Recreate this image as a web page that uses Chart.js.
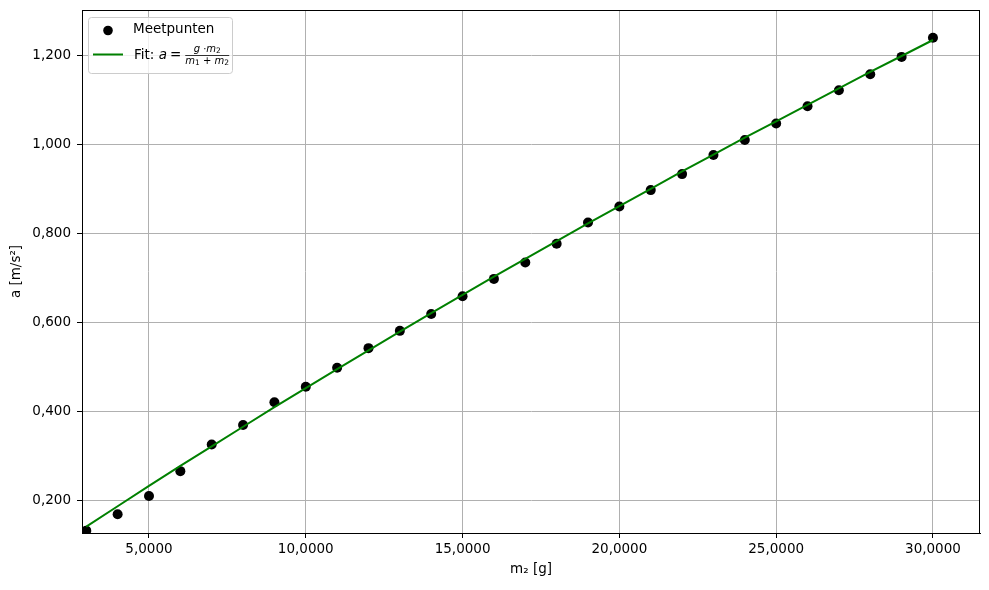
<!DOCTYPE html>
<html>
<head>
<meta charset="utf-8">
<script src="https://cdn.jsdelivr.net/npm/chart.js@4/dist/chart.umd.min.js"></script>
<style>
  html, body { margin: 0; padding: 0; background: #fff; }
  #wrap { width: 989px; height: 590px; }
</style>
</head>
<body>
<div id="wrap"><canvas id="c" width="989" height="590"></canvas></div>
<script>
// ---- data ----
const m2Values = [3, 4, 5, 6, 7, 8, 9, 10, 11, 12, 13, 14, 15, 16, 17, 18, 19, 20, 21, 22, 23, 24, 25, 26, 27, 28, 29, 30];
const measuredA = [0.131, 0.168, 0.209, 0.265, 0.325, 0.369, 0.420, 0.455, 0.498, 0.542, 0.581, 0.619, 0.659, 0.698, 0.735, 0.777, 0.825, 0.861, 0.898, 0.934, 0.977, 1.011, 1.048, 1.087, 1.123, 1.159, 1.198, 1.241];
const fitA = [0.140, 0.186, 0.232, 0.277, 0.321, 0.365, 0.409, 0.452, 0.495, 0.537, 0.579, 0.621, 0.662, 0.703, 0.743, 0.783, 0.823, 0.862, 0.901, 0.940, 0.978, 1.016, 1.053, 1.090, 1.127, 1.164, 1.200, 1.236];
const xTicks = [5, 10, 15, 20, 25, 30];
const yTicks = [0.2, 0.4, 0.6, 0.8, 1.0, 1.2];
const seriesNames = ['Meetpunten', 'Fit'];
const xTitle = 'm₂ [g]';
const yTitle = 'a [m/s²]';

const FONT = "'DejaVu Sans'";

const framePlugin = {
  id: 'frame',
  afterDatasetsDraw(chart) {
    const {ctx, chartArea: a} = chart;
    ctx.save();
    ctx.strokeStyle = '#000';
    ctx.lineWidth = 1;
    ctx.strokeRect(Math.round(a.left) + 0.5, Math.round(a.top) + 0.5, Math.round(a.right - a.left) - 1, Math.round(a.bottom - a.top));
    ctx.restore();
  },
  afterDraw(chart) {
    // legend box (inside the plot, upper left)
    const {ctx, chartArea: a} = chart;
    const x0 = a.left + 6, y0 = a.top + 7, w = 144, h = 56;
    ctx.save();
    ctx.globalAlpha = 0.8;
    ctx.fillStyle = '#fff';
    ctx.beginPath();
    ctx.roundRect(x0 + 0.5, y0 + 0.5, w, h, 3);
    ctx.fill();
    ctx.globalAlpha = 1;
    ctx.strokeStyle = '#cccccc';
    ctx.lineWidth = 1;
    ctx.stroke();

    // entry 1: scatter marker
    ctx.fillStyle = '#000';
    ctx.beginPath();
    ctx.arc(x0 + 20, y0 + 13.5, 4.8, 0, Math.PI * 2);
    ctx.fill();
    ctx.font = '13.5px ' + FONT;
    ctx.textBaseline = 'middle';
    ctx.textAlign = 'left';
    ctx.fillText(seriesNames[0], x0 + 45, y0 + 12.5);

    // entry 2: line sample
    ctx.strokeStyle = '#008000';
    ctx.lineWidth = 2;
    ctx.beginPath();
    ctx.moveTo(x0 + 5, y0 + 37.5);
    ctx.lineTo(x0 + 35, y0 + 37.5);
    ctx.stroke();

    let tx = x0 + 46;
    const ty = y0 + 38;
    ctx.fillStyle = '#000';
    ctx.font = '13.5px ' + FONT;
    ctx.fillText(seriesNames[1] + ':', tx, ty);
    tx += ctx.measureText(seriesNames[1] + ': ').width;
    ctx.font = 'italic 13.5px ' + FONT;
    ctx.fillText('a', tx, ty);
    tx += ctx.measureText('a').width + 3;
    ctx.font = '13.5px ' + FONT;
    ctx.fillText('=', tx, ty);
    tx += ctx.measureText('=').width + 4;

    // fraction
    const runs = (parts, cx, cy) => {
      let total = 0;
      parts.forEach(p => { ctx.font = p[1]; total += ctx.measureText(p[0]).width; });
      let xx = cx - total / 2;
      parts.forEach(p => {
        ctx.font = p[1];
        ctx.fillText(p[0], xx, cy + (p[2] || 0));
        xx += ctx.measureText(p[0]).width;
      });
      return total;
    };
    const it = 'italic 10px ' + FONT, rm = '10px ' + FONT, sub = '7.5px ' + FONT;
    const fracW = 44;
    const cx = tx + fracW / 2;
    runs([['g', it], [' ·', rm], ['m', it], ['2', sub, 2]], cx, y0 + 32);
    runs([['m', it], ['1', sub, 2], [' + ', rm], ['m', it], ['2', sub, 2]], cx, y0 + 44.5);
    ctx.strokeStyle = '#000';
    ctx.lineWidth = 0.8;
    ctx.beginPath();
    ctx.moveTo(tx, y0 + 38.5);
    ctx.lineTo(tx + fracW, y0 + 38.5);
    ctx.stroke();
    ctx.restore();
  }
};

new Chart(document.getElementById('c'), {
  type: 'scatter',
  data: {
    datasets: [
      {
        type: 'line',
        label: seriesNames[1],
        data: fitA.map((v, i) => ({x: m2Values[i], y: v})),
        borderColor: '#008000',
        borderWidth: 2,
        pointRadius: 0,
        fill: false,
        tension: 0,
        order: 0
      },
      {
        type: 'scatter',
        label: seriesNames[0],
        data: measuredA.map((v, i) => ({x: m2Values[i], y: v})),
        backgroundColor: '#000',
        borderWidth: 0,
        pointRadius: 5,
        order: 1
      }
    ]
  },
  options: {
    responsive: false,
    animation: false,
    devicePixelRatio: 1,
    layout: { padding: { top: 10, right: 9, left: 0, bottom: 0 } },
    plugins: { legend: { display: false }, tooltip: { enabled: false } },
    scales: {
      x: {
        type: 'linear',
        min: 2.864,
        max: 31.50,
        afterFit: s => { s.height = 57; s.paddingLeft = 0; s.paddingRight = 0; },
        afterBuildTicks: s => { s.ticks = xTicks.map(v => ({value: v})); },
        grid: { color: '#b0b0b0', lineWidth: 1, tickColor: '#000', tickLength: 5, tickWidth: 1 },
        border: { color: '#000', width: 1 },
        ticks: {
          color: '#000', padding: 3, maxRotation: 0, autoSkip: false,
          font: { family: FONT, size: 13.5 },
          callback: v => v.toFixed(4).replace('.', ',')
        },
        title: { display: true, text: xTitle, color: '#000', font: { family: FONT, size: 13.5 }, padding: { top: 0, bottom: 12 } }
      },
      y: {
        type: 'linear',
        min: 0.1257,
        max: 1.3036,
        afterFit: s => { s.width = 82; s.paddingTop = 0; s.paddingBottom = 0; },
        afterBuildTicks: s => { s.ticks = yTicks.map(v => ({value: v})); },
        grid: { color: '#b0b0b0', lineWidth: 1, tickColor: '#000', tickLength: 5, tickWidth: 1 },
        border: { color: '#000', width: 1 },
        ticks: {
          color: '#000', padding: 6, autoSkip: false,
          font: { family: FONT, size: 13.5 },
          callback: v => v.toFixed(3).replace('.', ',')
        },
        title: { display: true, text: yTitle, color: '#000', font: { family: FONT, size: 13.5 }, padding: { top: 8, bottom: 0 } }
      }
    }
  },
  plugins: [framePlugin]
});
</script>
</body>
</html>
